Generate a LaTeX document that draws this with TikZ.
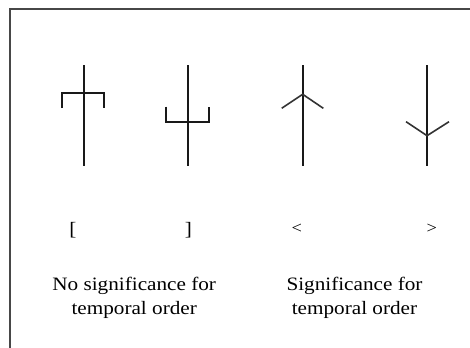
\documentclass[tikz,border=0pt]{standalone}
\usepackage{fontspec}
\setmainfont[FakeStretch=1.12]{Liberation Serif}
\begin{document}
\begin{tikzpicture}[x=1bp,y=-1bp,
  sym/.style={line width=1.8bp,black!90},
  frame/.style={line width=2.2bp,black!72},
  lbl/.style={inner sep=0pt,font=\fontsize{19}{25}\selectfont},
  smalllbl/.style={inner sep=0pt,font=\fontsize{16.5}{20}\selectfont},
  captext/.style={inner sep=0pt,align=center,anchor=north,font=\fontsize{19}{24.5}\selectfont}]
\useasboundingbox (0,0) rectangle (470,347);
% frame
\draw[frame] (10,352) -- (10,9) -- (475,9);
% symbol 1: [
\draw[sym] (84,65) -- (84,166);
\draw[sym] (62,108) -- (62,92.7) -- (104.3,92.7) -- (104.3,108);
% symbol 2: ]
\draw[sym] (188.3,65) -- (188.3,166);
\draw[sym] (166,106.7) -- (166,121.7) -- (209,121.7) -- (209,106.7);
% symbol 3: <
\draw[sym] (302.7,65) -- (302.7,166);
\draw[sym,line width=1.6bp,black!80] (281.7,108.3) -- (302.7,94.3) -- (323.3,108.3);
% symbol 4: >
\draw[sym] (427,65) -- (427,166);
\draw[sym,line width=1.6bp,black!80] (406,121.7) -- (427,135.7) -- (449,121.7);
% labels
\node[lbl] (l1) at (73,230) {[};
\node[lbl] (l2) at (188.3,230) {]};
\node[smalllbl] (l3) at (296.7,229) {<};
\node[smalllbl] (l4) at (431.7,229) {>};
\node[captext] (c1) at (134.2,277) {No significance for\\temporal order};
\node[captext] (c2) at (354.5,277) {Significance for\\temporal order};
\end{tikzpicture}
\end{document}
